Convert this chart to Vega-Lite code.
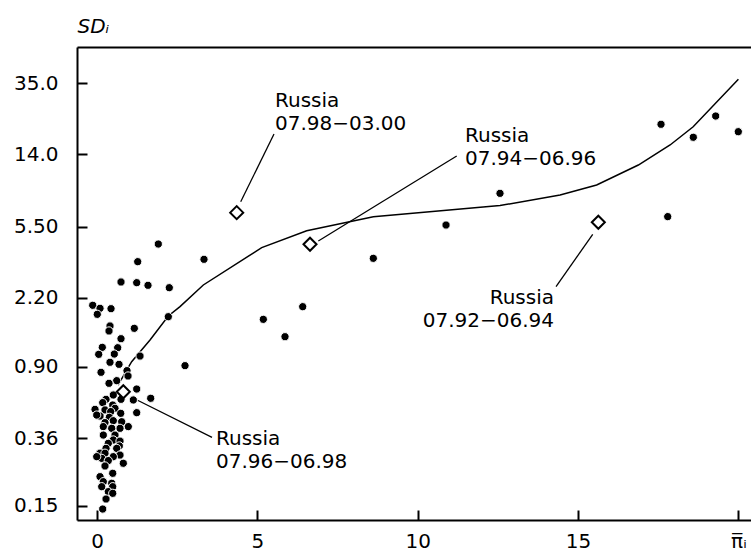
{
  "$schema": "https://vega.github.io/schema/vega-lite/v6.json",
  "width": 674,
  "height": 473,
  "autosize": "none",
  "padding": {"left": 77, "top": 47, "right": 0, "bottom": 33},
  "config": {
    "font": "DejaVu Sans",
    "view": {"stroke": null},
    "axis": {"grid": false, "domainColor": "black", "tickColor": "black", "labelColor": "black", "titleColor": "black", "labelFontSize": 20, "domainWidth": 2, "tickWidth": 2}
  },
  "datasets": {
    "curve": [
      {"x": 0.655, "y": 0.713}, {"x": 1.08, "y": 0.963}, {"x": 1.653, "y": 1.274}, {"x": 2.223, "y": 1.735},
      {"x": 2.588, "y": 1.958}, {"x": 3.315, "y": 2.589}, {"x": 5.136, "y": 4.19}, {"x": 6.539, "y": 5.21},
      {"x": 8.616, "y": 6.24}, {"x": 12.566, "y": 7.21}, {"x": 14.44, "y": 8.26}, {"x": 15.58, "y": 9.4},
      {"x": 16.88, "y": 12.16}, {"x": 17.87, "y": 15.74}, {"x": 18.59, "y": 19.92}, {"x": 20.0, "y": 36.7}
    ],
    "pts": [
      {"x": 3.336, "y": 3.606}, {"x": 8.616, "y": 3.652}, {"x": 10.883, "y": 5.61}, {"x": 6.414, "y": 1.957},
      {"x": 5.186, "y": 1.663}, {"x": 5.862, "y": 1.329}, {"x": 2.744, "y": 0.915}, {"x": 12.566, "y": 8.44},
      {"x": 17.796, "y": 6.25}, {"x": 17.587, "y": 20.56}, {"x": 18.594, "y": 17.39}, {"x": 19.292, "y": 22.87},
      {"x": 19.997, "y": 18.68}, {"x": 1.911, "y": 4.39}, {"x": 1.269, "y": 3.496}, {"x": 0.748, "y": 2.691},
      {"x": 1.238, "y": 2.667}, {"x": 1.59, "y": 2.579}, {"x": 2.254, "y": 2.5}, {"x": -0.134, "y": 1.993},
      {"x": 0.094, "y": 1.917}, {"x": 0.009, "y": 1.774}, {"x": 0.437, "y": 1.907}, {"x": 2.223, "y": 1.72},
      {"x": 0.405, "y": 1.526}, {"x": 0.374, "y": 1.431}, {"x": 1.163, "y": 1.481}, {"x": 0.748, "y": 1.295},
      {"x": 0.165, "y": 1.159}, {"x": 0.645, "y": 1.153}, {"x": 0.053, "y": 1.059}, {"x": 0.539, "y": 1.063},
      {"x": 1.341, "y": 1.036}, {"x": 0.405, "y": 0.956}, {"x": 0.686, "y": 0.931}, {"x": 0.125, "y": 0.84},
      {"x": 0.935, "y": 0.858}, {"x": 0.967, "y": 0.801}, {"x": 0.614, "y": 0.754}, {"x": 0.374, "y": 0.729},
      {"x": 1.238, "y": 0.677}, {"x": 1.674, "y": 0.601}, {"x": 1.132, "y": 0.588}, {"x": 0.748, "y": 0.593},
      {"x": 0.281, "y": 0.593}, {"x": 0.508, "y": 0.627}, {"x": 0.178, "y": 0.568}, {"x": 0.49, "y": 0.551},
      {"x": -0.062, "y": 0.521}, {"x": 0.249, "y": 0.517}, {"x": 0.561, "y": 0.528}, {"x": 0.427, "y": 0.506},
      {"x": 0.739, "y": 0.495}, {"x": 1.238, "y": 0.499}, {"x": 0.094, "y": 0.478}, {"x": 0.384, "y": 0.47},
      {"x": 0.508, "y": 0.45}, {"x": 0.249, "y": 0.439}, {"x": 0.77, "y": 0.444}, {"x": 0.976, "y": 0.417},
      {"x": 0.717, "y": 0.408}, {"x": 0.196, "y": 0.417}, {"x": 0.458, "y": 0.408}, {"x": 0.196, "y": 0.374},
      {"x": 0.561, "y": 0.374}, {"x": 0.508, "y": 0.351}, {"x": 0.717, "y": 0.346}, {"x": 0.352, "y": 0.336},
      {"x": 0.695, "y": 0.325}, {"x": 0.281, "y": 0.315}, {"x": 0.614, "y": 0.315}, {"x": 0.094, "y": 0.296},
      {"x": 0.249, "y": 0.296}, {"x": 0.717, "y": 0.289}, {"x": 0.508, "y": 0.283}, {"x": 0.147, "y": 0.277},
      {"x": 0.352, "y": 0.269}, {"x": 0.82, "y": 0.26}, {"x": 0.249, "y": 0.251}, {"x": 0.49, "y": 0.2285},
      {"x": 0.094, "y": 0.2187}, {"x": 0.196, "y": 0.205}, {"x": 0.458, "y": 0.2009}, {"x": 0.147, "y": 0.1922},
      {"x": 0.49, "y": 0.1922}, {"x": 0.352, "y": 0.1803}, {"x": 0.49, "y": 0.1765}, {"x": 0.281, "y": 0.164},
      {"x": 0.178, "y": 0.1441}, {"x": -0.009, "y": 0.283}, {"x": -0.009, "y": 0.484}
    ],
    "diamonds": [
      {"x": 4.356, "y": 6.58}, {"x": 6.642, "y": 4.375}, {"x": 15.632, "y": 5.81}, {"x": 0.82, "y": 0.654}
    ],
    "leaders": [
      {"x": 4.481, "y": 7.58, "x2": 5.519, "y2": 18.13},
      {"x": 6.901, "y": 4.564, "x2": 11.216, "y2": 13.66},
      {"x": 15.457, "y": 4.977, "x2": 14.313, "y2": 2.532},
      {"x": 1.123, "y": 0.603, "x2": 3.586, "y2": 0.3633}
    ],
    "labelsLeft": [
      {"x": 5.55, "y": 25.69, "label": "Russia\n07.98−03.00"},
      {"x": 11.475, "y": 16.36, "label": "Russia\n07.94−06.96"},
      {"x": 3.711, "y": 0.329, "label": "Russia\n07.96−06.98"}
    ],
    "labelsRight": [
      {"x": 14.25, "y": 2.026, "label": "Russia\n07.92−06.94"}
    ]
  },
  "encoding": {
    "x": {"field": "x", "type": "quantitative", "scale": {"domain": [-0.624, 20.393], "nice": false, "zero": false}, "axis": null},
    "y": {
      "field": "y", "type": "quantitative",
      "scale": {"type": "log", "domain": [0.1251, 55.68], "nice": false},
      "axis": {
        "values": [0.15, 0.36, 0.9, 2.2, 5.5, 14, 35],
        "labelExpr": "datum.value >= 10 ? format(datum.value, '.1f') : format(datum.value, '.2f')",
        "tickSize": -10, "labelPadding": 29,
        "title": "SDᵢ", "titleAngle": 0, "titleAlign": "left", "titleBaseline": "alphabetic",
        "titleX": 0, "titleY": -15, "titleFontStyle": "italic", "titleFontWeight": "normal", "titleFontSize": 20
      }
    }
  },
  "layer": [
    {
      "data": {"name": "curve"},
      "mark": {"type": "line", "color": "black", "strokeWidth": 1.5},
      "encoding": {
        "x": {"field": "x", "type": "quantitative", "scale": {"domain": [-0.624, 20.393], "nice": false, "zero": false},
          "axis": {"orient": "bottom", "values": [0, 5, 10, 15, 20], "labelExpr": "datum.value == 20 ? 'π̅ᵢ' : datum.label",
            "tickSize": -10, "labelPadding": 37, "labelBaseline": "alphabetic", "labelFlush": false, "title": null}}
      }
    },
    {
      "data": {"name": "leaders"},
      "mark": {"type": "rule", "color": "black", "strokeWidth": 1.3},
      "encoding": {"x2": {"field": "x2"}, "y2": {"field": "y2"}}
    },
    {
      "data": {"name": "pts"},
      "mark": {"type": "circle", "size": 68, "color": "black", "stroke": "white", "strokeWidth": 1, "opacity": 1},
      "encoding": {
        "x": {"field": "x", "type": "quantitative", "scale": {"domain": [-0.624, 20.393], "nice": false, "zero": false},
          "axis": {"orient": "top", "domain": true, "ticks": false, "labels": false, "title": null}}
      }
    },
    {
      "data": {"name": "diamonds"},
      "mark": {"type": "point", "shape": "diamond", "filled": false, "fill": "white", "fillOpacity": 1, "stroke": "black", "strokeWidth": 2, "size": 170, "opacity": 1}
    },
    {
      "data": {"name": "labelsLeft"},
      "mark": {"type": "text", "align": "left", "baseline": "alphabetic", "fontSize": 20, "lineBreak": "\n", "lineHeight": 23, "color": "black"},
      "encoding": {"text": {"field": "label"}}
    },
    {
      "data": {"name": "labelsRight"},
      "mark": {"type": "text", "align": "right", "baseline": "alphabetic", "fontSize": 20, "lineBreak": "\n", "lineHeight": 23, "color": "black"},
      "encoding": {"text": {"field": "label"}}
    }
  ],
  "resolve": {"axis": {"x": "independent"}}
}
